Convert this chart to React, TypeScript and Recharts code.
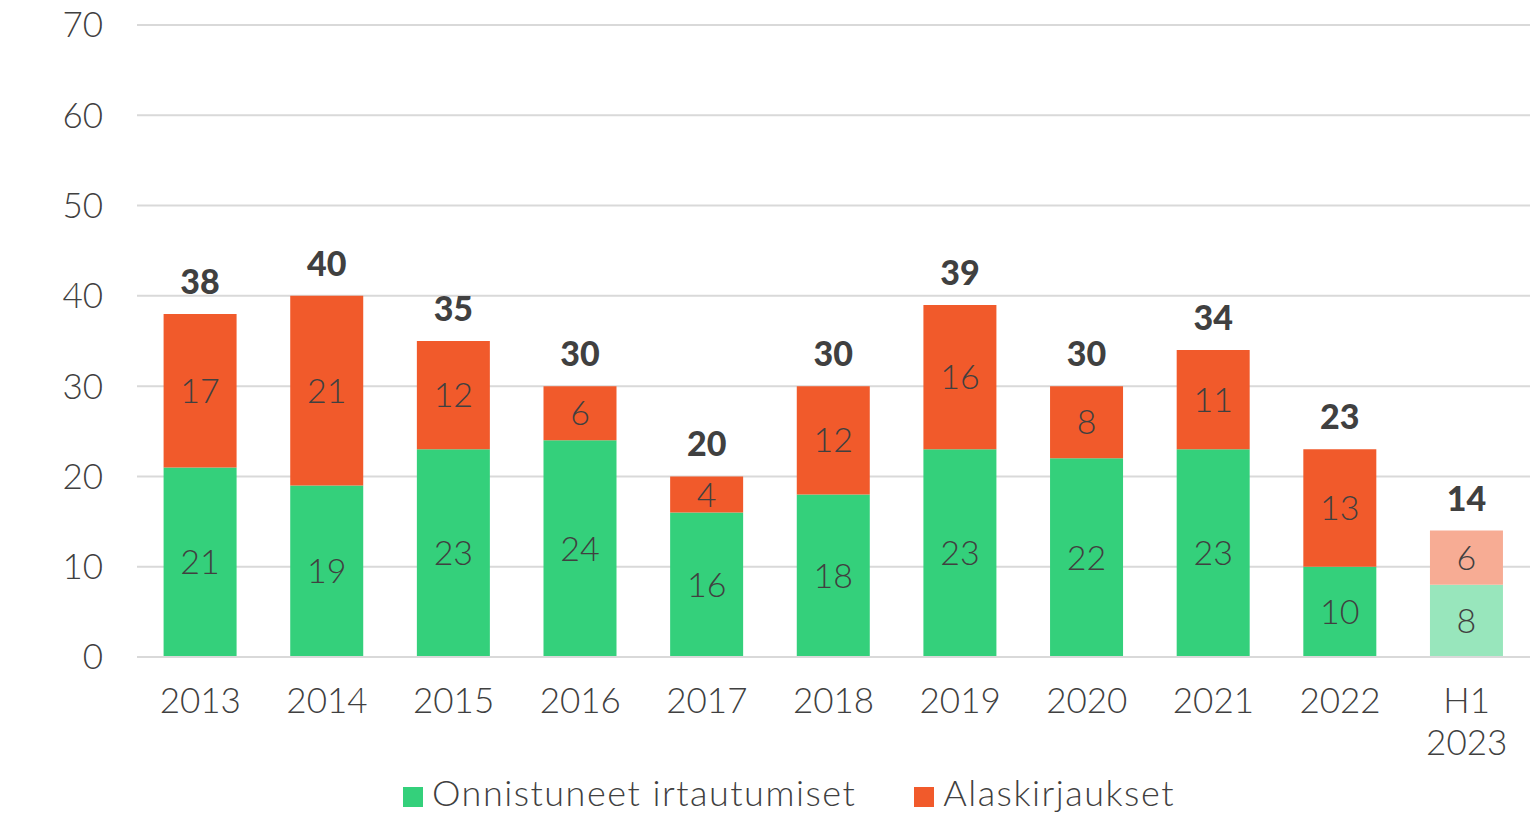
import { BarChart, Bar, XAxis, YAxis, CartesianGrid, Legend, LabelList, Cell } from 'recharts';

const years = ['2013', '2014', '2015', '2016', '2017', '2018', '2019', '2020', '2021', '2022', 'H1 2023'];
const onnistuneet = [21, 19, 23, 24, 16, 18, 23, 22, 23, 10, 8];
const alaskirjaukset = [17, 21, 12, 6, 4, 12, 16, 8, 11, 13, 6];
const yTicks = [0, 10, 20, 30, 40, 50, 60, 70];

const GREEN = '#34D07B';
const ORANGE = '#F15A2B';
const GREEN_LIGHT = '#98E6BC';
const ORANGE_LIGHT = '#F7AC94';
const TEXT = '#404040';
const FONT = 'Lato, "Open Sans", sans-serif';

const data = years.map((year, i) => ({
  year,
  onnistuneet: onnistuneet[i],
  alaskirjaukset: alaskirjaukset[i],
  total: onnistuneet[i] + alaskirjaukset[i],
}));

const XTick = ({ x, y, payload }: any) => {
  const lines = String(payload.value).split(' ');
  return (
    <text x={x} y={y} textAnchor="middle" fill={TEXT} fontSize={35} fontFamily={FONT} fontWeight={300}>
      {lines.map((l, i) => (
        <tspan key={i} x={x} dy={i === 0 ? 48 : 42}>{l}</tspan>
      ))}
    </text>
  );
};

const App = () => {
  return (
    <div style={{ position: 'absolute', left: 0, top: 0, fontFamily: FONT }}>
      <BarChart
        width={1532}
        height={814}
        data={data}
        margin={{ top: 25, right: 2, bottom: 0, left: 0 }}
        barCategoryGap="21%"
      >
        <CartesianGrid vertical={false} stroke="#D9D9D9" strokeWidth={2} />
        <XAxis
          dataKey="year"
          axisLine={{ stroke: '#D9D9D9', strokeWidth: 2 }}
          tickLine={false}
          height={113}
          interval={0}
          tick={<XTick />}
        />
        <YAxis
          domain={[0, 70]}
          ticks={yTicks}
          width={137}
          axisLine={false}
          tickLine={false}
          tickSize={0}
          tickMargin={34}
          tick={{ fill: TEXT, fontSize: 35, fontFamily: FONT, fontWeight: 300 }}
        />
        <Legend
          verticalAlign="bottom"
          align="center"
          iconType="square"
          iconSize={20}
          height={44}
          itemSorter={(item: any) => (item.dataKey === 'onnistuneet' ? 0 : 1)}
          wrapperStyle={{ fontSize: 36, fontWeight: 300, letterSpacing: 1.5, left: 29 }}
          formatter={(value: string) => (
            <span style={{ color: TEXT, marginLeft: 5, marginRight: value === 'Alaskirjaukset' ? 0 : 48 }}>{value}</span>
          )}
        />
        <Bar dataKey="onnistuneet" name="Onnistuneet irtautumiset" stackId="a" fill={GREEN} isAnimationActive={false}>
          {data.map((_, i) => (
            <Cell key={i} fill={i === data.length - 1 ? GREEN_LIGHT : GREEN} />
          ))}
          <LabelList dataKey="onnistuneet" position="center" fill={TEXT} fontSize={34} fontFamily={FONT} fontWeight={300} />
        </Bar>
        <Bar dataKey="alaskirjaukset" name="Alaskirjaukset" stackId="a" fill={ORANGE} isAnimationActive={false}>
          {data.map((_, i) => (
            <Cell key={i} fill={i === data.length - 1 ? ORANGE_LIGHT : ORANGE} />
          ))}
          <LabelList dataKey="alaskirjaukset" position="center" fill={TEXT} fontSize={34} fontFamily={FONT} fontWeight={300} />
          <LabelList dataKey="total" position="top" offset={20} fill={TEXT} fontSize={34} fontFamily={FONT} fontWeight={900} />
        </Bar>
      </BarChart>
    </div>
  );
};

export default App;
